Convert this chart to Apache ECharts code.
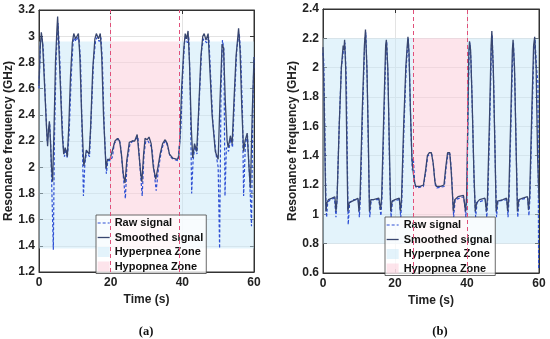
<!DOCTYPE html>
<html><head><meta charset="utf-8">
<script src="https://cdn.jsdelivr.net/npm/echarts@6/dist/echarts.min.js"></script>
<style>html,body{margin:0;padding:0;background:#fff}#c{width:550px;height:339px}</style>
</head><body><div id="c"></div>
<script>
// ---------- Panel (a) ----------
const rawA = [[0,2.6],[0.4,2.95],[0.8,3.0],[1.2,2.9],[1.8,2.5],[2.3,2.2],[2.6,2.2],[3.0,2.33],[3.3,2.15],[3.7,1.7],[4.0,1.37],[4.3,2.2],[4.8,2.85],[5.3,3.1],[5.7,2.9],[6.2,2.5],[6.8,2.15],[7.1,2.08],[7.5,2.14],[7.9,2.07],[8.4,2.25],[9.0,2.7],[9.5,2.95],[9.9,2.99],[10.3,2.96],[10.8,2.99],[11.2,2.97],[11.6,2.8],[12.0,2.3],[12.4,1.78],[12.8,2.03],[13.3,2.12],[13.7,2.12],[14.1,2.08],[14.6,2.4],[15.2,2.8],[15.8,2.97],[16.2,2.99],[16.8,2.96],[17.3,2.99],[17.7,2.8],[18.2,2.3],[18.8,1.95],[19.2,2.05],[20.0,2.05],[20.5,2.08],[21.0,2.18],[21.5,2.2],[22.1,2.22],[22.7,2.18],[23.3,2.0],[23.8,1.85],[24.1,1.76],[24.6,2.05],[25.4,2.18],[26.2,2.2],[26.9,2.21],[27.6,2.23],[28.2,2.0],[28.8,1.78],[29.3,2.1],[29.8,2.2],[30.4,2.2],[30.9,2.21],[31.5,2.15],[32.2,1.95],[32.7,1.82],[33.3,1.98],[34.0,2.1],[34.7,2.18],[35.4,2.2],[36.0,2.15],[36.6,2.08],[37.5,2.06],[38.8,2.05],[39.2,2.05],[39.6,2.3],[40.1,2.7],[40.6,2.95],[41.0,2.99],[41.4,2.95],[41.8,3.0],[42.2,2.6],[42.6,1.8],[43.0,2.05],[43.5,2.16],[44.1,2.1],[44.7,2.5],[45.4,2.9],[45.9,2.98],[46.3,2.99],[46.8,2.95],[47.4,2.99],[47.8,2.75],[48.5,2.35],[49.4,2.1],[50.0,2.0],[50.4,1.38],[50.8,2.6],[51.2,2.97],[51.6,2.9],[51.9,1.78],[52.3,2.15],[52.9,2.12],[53.5,2.22],[54.0,2.15],[54.6,2.55],[55.2,2.9],[55.7,3.0],[55.9,3.02],[56.3,2.85],[56.8,2.4],[57.1,1.78],[57.6,2.18],[58.2,2.24],[58.8,1.9],[59.3,1.55],[59.7,2.5],[60.0,2.84]];
const smoothA = [[0,2.62],[0.3,2.9],[0.65,3.03],[1.0,2.95],[1.6,2.6],[2.1,2.3],[2.4,2.16],[2.7,2.3],[2.9,2.35],[3.2,2.2],[3.5,2.0],[3.8,1.89],[4.2,2.3],[4.6,2.8],[5.0,3.05],[5.2,3.15],[5.5,2.95],[6.0,2.6],[6.5,2.25],[6.9,2.1],[7.3,2.15],[7.6,2.12],[7.9,2.08],[8.3,2.3],[8.8,2.7],[9.3,2.95],[9.7,3.02],[10.2,2.98],[10.6,3.0],[11.0,3.02],[11.4,2.85],[11.9,2.4],[12.5,2.01],[12.8,2.05],[13.2,2.13],[13.6,2.14],[14.0,2.1],[14.4,2.3],[15.0,2.75],[15.6,2.98],[16.0,3.02],[16.6,2.98],[17.1,3.02],[17.5,2.85],[18.0,2.4],[18.7,1.99],[19.1,2.06],[19.8,2.06],[20.2,2.05],[20.7,2.15],[21.2,2.2],[21.9,2.22],[22.5,2.2],[23.0,2.1],[23.5,1.95],[24.0,1.88],[24.5,2.05],[25.2,2.19],[26.0,2.2],[26.7,2.2],[27.4,2.25],[27.9,2.1],[28.4,1.95],[28.7,1.89],[29.2,2.1],[29.6,2.22],[30.2,2.21],[30.7,2.23],[31.3,2.18],[31.9,2.0],[32.6,1.91],[33.2,2.0],[33.8,2.1],[34.5,2.18],[35.2,2.21],[35.8,2.18],[36.4,2.1],[37.3,2.07],[38.6,2.06],[39.0,2.08],[39.3,2.2],[39.8,2.6],[40.4,2.9],[40.8,3.02],[41.2,2.98],[41.6,3.04],[42.0,2.8],[42.5,2.3],[42.9,2.07],[43.4,2.18],[44.0,2.12],[44.5,2.4],[45.2,2.85],[45.7,3.0],[46.1,3.02],[46.6,2.97],[47.2,3.02],[47.6,2.8],[48.3,2.4],[49.2,2.12],[50.0,2.06],[50.5,2.5],[51.1,2.94],[51.5,2.91],[52.0,2.5],[52.5,2.2],[52.8,2.15],[53.4,2.24],[53.9,2.18],[54.4,2.5],[55.0,2.85],[55.5,3.0],[55.7,3.06],[56.1,2.9],[56.6,2.45],[57.1,2.12],[57.5,2.2],[58.1,2.26],[58.6,2.0],[59.0,1.84],[59.5,2.4],[60.0,2.84]];
const zoneYA = [1.38, 2.96];
const hypoXA = [20, 39];
const yTicksA = [1.2, 3.2, 0.2];

// ---------- Panel (b) ----------
const rawB = [[0,2.1],[0.2,2.05],[0.5,1.6],[0.8,1.1],[1.0,0.98],[1.3,1.08],[2.0,1.1],[3.2,1.11],[3.6,0.98],[3.9,1.1],[4.5,1.6],[5.1,2.0],[5.7,2.12],[6.1,2.17],[6.5,1.9],[6.8,1.3],[7.0,0.93],[7.4,1.08],[8.5,1.1],[9.8,1.1],[10.1,0.98],[10.4,1.12],[11.0,1.7],[11.6,2.18],[11.9,2.24],[12.3,1.9],[12.7,1.3],[13.0,0.98],[13.4,1.1],[15.5,1.1],[16.1,0.99],[16.4,1.12],[17.0,1.7],[17.5,2.15],[17.7,2.18],[18.1,1.9],[18.5,1.3],[18.9,0.98],[19.3,1.09],[21.2,1.1],[21.6,0.98],[21.9,1.1],[22.5,1.6],[23.1,2.0],[23.5,2.15],[23.7,2.2],[24.0,2.0],[24.4,1.6],[24.8,1.3],[25.1,1.38],[25.5,1.2],[26.0,1.18],[27.9,1.19],[28.6,1.3],[29.1,1.4],[29.6,1.41],[30.2,1.41],[30.7,1.33],[31.2,1.2],[31.6,1.18],[33.7,1.19],[34.2,1.32],[34.7,1.41],[35.3,1.41],[35.7,1.28],[36.1,1.08],[36.3,0.98],[36.7,1.1],[39.1,1.12],[39.7,0.98],[40.0,1.2],[40.3,1.7],[40.6,2.12],[40.8,2.17],[41.1,2.05],[41.5,1.7],[42.0,1.2],[42.4,0.98],[42.8,1.08],[45.1,1.1],[45.5,0.98],[45.8,1.12],[46.4,1.7],[46.8,2.15],[47.0,2.22],[47.4,1.9],[47.9,1.3],[48.2,0.98],[48.6,1.09],[51.1,1.1],[51.4,0.98],[51.7,1.12],[52.3,1.7],[52.7,2.1],[52.9,2.17],[53.3,1.9],[53.7,1.4],[54.1,0.98],[54.5,1.1],[56.9,1.11],[57.2,0.99],[57.5,1.12],[58.1,1.7],[58.6,2.12],[58.9,2.19],[59.3,2.0],[59.7,1.9],[59.9,0.62]];
const smoothB = [[0,2.14],[0.3,1.8],[0.6,1.3],[0.8,1.02],[1.1,1.08],[1.5,1.1],[2.5,1.11],[3.3,1.12],[3.6,1.02],[3.9,1.1],[4.5,1.6],[5.1,2.0],[5.6,2.15],[5.8,2.12],[6.0,2.19],[6.3,2.0],[6.6,1.5],[6.9,1.02],[7.3,1.08],[7.8,1.09],[9.0,1.1],[9.7,1.11],[10.0,1.02],[10.3,1.12],[10.9,1.7],[11.5,2.15],[11.8,2.26],[12.2,2.0],[12.6,1.5],[12.9,1.02],[13.3,1.1],[14.0,1.1],[15.5,1.11],[16.0,1.03],[16.3,1.12],[16.9,1.7],[17.4,2.15],[17.6,2.19],[18.0,2.0],[18.4,1.5],[18.8,1.02],[19.2,1.09],[20.0,1.1],[21.2,1.11],[21.5,1.02],[21.8,1.1],[22.4,1.6],[23.0,2.0],[23.4,2.15],[23.6,2.21],[23.9,2.1],[24.3,1.7],[24.7,1.38],[25.0,1.3],[25.4,1.22],[25.8,1.19],[27.0,1.19],[27.9,1.2],[28.5,1.3],[29.0,1.4],[29.5,1.42],[30.1,1.42],[30.6,1.35],[31.1,1.22],[31.5,1.19],[32.7,1.19],[33.6,1.2],[34.1,1.32],[34.6,1.42],[35.2,1.42],[35.6,1.3],[36.0,1.12],[36.2,1.02],[36.6,1.1],[37.5,1.12],[39.0,1.13],[39.6,1.02],[39.9,1.12],[40.2,1.6],[40.5,2.1],[40.7,2.18],[41.0,2.12],[41.4,1.8],[41.9,1.3],[42.3,1.02],[42.7,1.08],[43.5,1.1],[45.0,1.11],[45.4,1.02],[45.7,1.12],[46.3,1.7],[46.7,2.15],[46.9,2.25],[47.3,2.0],[47.8,1.4],[48.1,1.02],[48.5,1.09],[50.0,1.1],[51.0,1.11],[51.3,1.02],[51.6,1.12],[52.2,1.7],[52.6,2.12],[52.8,2.19],[53.2,2.0],[53.6,1.5],[54.0,1.02],[54.4,1.1],[55.5,1.11],[56.8,1.12],[57.1,1.03],[57.4,1.12],[58.0,1.7],[58.5,2.15],[58.8,2.21],[59.2,2.0],[59.6,1.4],[60.0,1.1]];
const zoneYB = [0.8, 2.2];
const hypoXB = [25, 40];
const yTicksB = [0.6, 2.4, 0.2];

const xTicks = [0, 60, 20];
const legendNames = ['Raw signal', 'Smoothed signal', 'Hyperpnea Zone', 'Hypopnea Zone'];
const panelLabels = ['(a)', '(b)'];
const xName = 'Time (s)';
const yName = 'Resonance frequency (GHz)';

// ---------- styles ----------
const FONT = "'Liberation Sans', Arial, sans-serif";
const AX = '#333';
const hyperColor = 'rgba(200,232,248,0.5)';
const hypoColor = 'rgba(252,205,218,0.55)';
const rawColor = '#2d4fd4';
const smoothColor = '#38466f';
const markColor = '#e0507a';

const grids = [
  {left: 39, top: 10, width: 215, height: 262},
  {left: 323, top: 9, width: 216, height: 264}
];
const legendPos = [{left: 96, top: 215}, {left: 385, top: 217}];
const labelPos = [[146, 332], [440, 332]];

const fmt = v => String(+(+v).toFixed(1));

const xAxes = [], yAxes = [], series = [], legends = [], graphics = [];
const panels = [
  {raw: rawA, smooth: smoothA, zoneY: zoneYA, hypoX: hypoXA, yT: yTicksA},
  {raw: rawB, smooth: smoothB, zoneY: zoneYB, hypoX: hypoXB, yT: yTicksB}
];

panels.forEach((p, i) => {
  const baseX = {
    type: 'value', gridIndex: i, min: xTicks[0], max: xTicks[1], interval: xTicks[2],
    axisLine: {show: true, onZero: false, lineStyle: {color: AX, width: 1}},
    axisTick: {show: true, inside: true, length: 4, lineStyle: {color: AX}},
    splitLine: {show: false}
  };
  xAxes.push(Object.assign({}, baseX, {
    position: 'bottom',
    axisLabel: {color: '#222', fontWeight: 'bold', fontSize: 12, fontFamily: FONT, margin: 5},
    splitLine: {show: true, lineStyle: {color: '#e3e3e3', width: 1}},
    name: xName, nameLocation: 'middle', nameGap: 19,
    nameTextStyle: {color: '#222', fontWeight: 'bold', fontSize: 12, fontFamily: FONT}
  }));
  xAxes.push(Object.assign({}, baseX, {position: 'top', axisLabel: {show: false}}));
  const baseY = {
    type: 'value', gridIndex: i, min: p.yT[0], max: p.yT[1], interval: p.yT[2],
    axisLine: {show: true, onZero: false, lineStyle: {color: AX, width: 1}},
    axisTick: {show: true, inside: true, length: 4, lineStyle: {color: AX}},
    splitLine: {show: false}
  };
  yAxes.push(Object.assign({}, baseY, {
    position: 'left',
    axisLabel: {color: '#222', fontWeight: 'bold', fontSize: 12, fontFamily: FONT, margin: 4, formatter: fmt},
    splitLine: {show: true, lineStyle: {color: '#e3e3e3', width: 1}},
    name: yName, nameLocation: 'middle', nameGap: 21,
    nameTextStyle: {color: '#222', fontWeight: 'bold', fontSize: 12, fontFamily: FONT}
  }));
  yAxes.push(Object.assign({}, baseY, {position: 'right', axisLabel: {show: false}}));

  const xi = 2 * i, yi = 2 * i;
  series.push({
    name: legendNames[2], type: 'line', xAxisIndex: xi, yAxisIndex: yi, data: [], z: 1,
    color: hyperColor, itemStyle: {color: hyperColor},
    markArea: {silent: true, itemStyle: {color: hyperColor, opacity: 1}, data: [
      [{xAxis: xTicks[0], yAxis: p.zoneY[0]}, {xAxis: p.hypoX[0], yAxis: p.zoneY[1]}],
      [{xAxis: p.hypoX[1], yAxis: p.zoneY[0]}, {xAxis: xTicks[1], yAxis: p.zoneY[1]}]
    ]}
  });
  series.push({
    name: legendNames[3], type: 'line', xAxisIndex: xi, yAxisIndex: yi, data: [], z: 1,
    color: hypoColor, itemStyle: {color: hypoColor},
    markArea: {silent: true, itemStyle: {color: hypoColor, opacity: 1}, data: [
      [{xAxis: p.hypoX[0], yAxis: p.zoneY[0]}, {xAxis: p.hypoX[1], yAxis: p.zoneY[1]}]
    ]},
    markLine: {silent: true, symbol: 'none', label: {show: false},
      lineStyle: {color: markColor, type: [4, 3], width: 1},
      data: [{xAxis: p.hypoX[0]}, {xAxis: p.hypoX[1]}]}
  });
  series.push({
    name: legendNames[0], type: 'line', xAxisIndex: xi, yAxisIndex: yi, data: p.raw, z: 3,
    symbol: 'none', color: rawColor,
    lineStyle: {color: rawColor, width: 1.2, type: [3, 2]}
  });
  series.push({
    name: legendNames[1], type: 'line', xAxisIndex: xi, yAxisIndex: yi, data: p.smooth, z: 4,
    symbol: 'none', color: smoothColor,
    lineStyle: {color: smoothColor, width: 1.3}
  });

  legends.push({
    orient: 'vertical', left: legendPos[i].left, top: legendPos[i].top,
    selectedMode: false, itemWidth: 12, itemHeight: 10, itemGap: 0.5,
    padding: [1, 3, 0, 1],
    backgroundColor: 'rgba(255,255,255,0.75)', borderColor: '#444', borderWidth: 0.8,
    textStyle: {color: '#111', fontWeight: 'bold', fontSize: 11, fontFamily: FONT, lineHeight: 14},
    data: [
      {name: legendNames[0], itemStyle: {opacity: 0}, lineStyle: {color: rawColor, type: [3, 2], width: 1.2}},
      {name: legendNames[1], itemStyle: {opacity: 0}, lineStyle: {color: smoothColor, width: 1.3}},
      {name: legendNames[2], icon: 'rect', itemStyle: {color: hyperColor}},
      {name: legendNames[3], icon: 'rect', itemStyle: {color: hypoColor}}
    ]
  });

  graphics.push({
    type: 'text', x: labelPos[i][0], y: labelPos[i][1],
    style: {text: panelLabels[i], fill: '#111', font: "bold 12.5px 'Liberation Serif', 'Times New Roman', serif",
      textAlign: 'center', textVerticalAlign: 'middle'}
  });
});

const chart = echarts.init(document.getElementById('c'), null, {renderer: 'canvas'});
chart.setOption({
  animation: false,
  backgroundColor: '#fff',
  grid: grids.map(g => Object.assign({show: true, borderColor: AX, borderWidth: 1, backgroundColor: 'transparent'}, g)),
  xAxis: xAxes, yAxis: yAxes, series: series, legend: legends, graphic: graphics
});
</script>
</body></html>
